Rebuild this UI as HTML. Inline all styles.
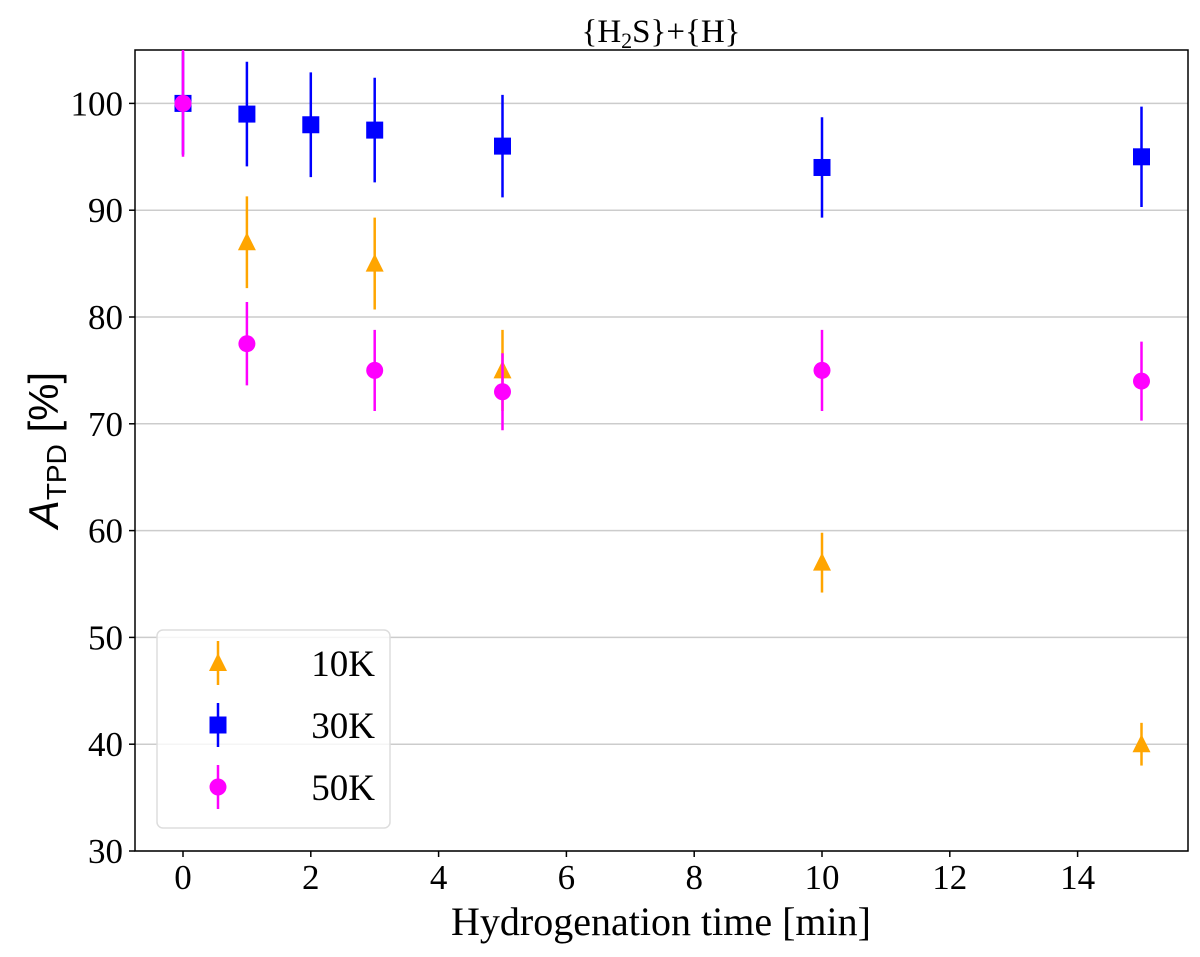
<!DOCTYPE html>
<html><head><meta charset="utf-8"><style>
body{margin:0;background:#fff}
svg{display:block;font-family:"Liberation Serif",serif}
</style></head><body>
<svg id="chart" width="1200" height="957" viewBox="0 0 1200 957" xmlns="http://www.w3.org/2000/svg">
<g id="grid"></g>
<g id="axes"></g>
<g id="marks"></g>
<text x="661" y="42" font-size="33" text-anchor="middle">{H<tspan font-size="22" dy="6">2</tspan><tspan dy="-6">S}+{H}</tspan></text>
<text x="661" y="935" font-size="40" text-anchor="middle">Hydrogenation time [min]</text>
<text transform="translate(58,450) rotate(-90)" font-size="42" text-anchor="middle" font-family="Liberation Sans,sans-serif"><tspan font-style="italic">A</tspan><tspan font-size="28" dy="8">TPD</tspan><tspan dy="-8"> [%]</tspan></text>
<g id="legend">
<rect x="157" y="630" width="233" height="198" rx="6" fill="#fff" fill-opacity="0.8" stroke="#ddd" stroke-width="1.5"/>
</g>
</svg>
<script>
const xTicks=[0,2,4,6,8,10,12,14];
const yTicks=[30,40,50,60,70,80,90,100];
const t10=[1,3,5,10,15];
const v10=[87,85,75,57,40];
const e10=[4.3,4.3,3.8,2.8,2];
const t30=[0,1,2,3,5,10,15];
const v30=[100,99,98,97.5,96,94,95];
const e30=[4.8,4.9,4.9,4.9,4.8,4.7,4.7];
const t50=[0,1,3,5,10,15];
const v50=[100,77.5,75,73,75,74];
const e50=[5,3.9,3.8,3.6,3.8,3.7];
const L=135,R=1188,T=50,B=851;
const x=v=>183+v*63.9;
const y=v=>B-(v-30)*(B-T)/75;
const NS="http://www.w3.org/2000/svg";
function mk(p,tag,a){const e=document.createElementNS(NS,tag);for(const k in a)e.setAttribute(k,a[k]);p.appendChild(e);return e;}
const grid=document.getElementById('grid'),axes=document.getElementById('axes'),marks=document.getElementById('marks');
yTicks.forEach(v=>{
 const g=mk(grid,'line',{x1:L,x2:R,y1:y(v),y2:y(v),stroke:'#ccc','stroke-width':1.5});
 
 
 mk(axes,'line',{x1:L-6,x2:L,y1:y(v),y2:y(v),stroke:'#000','stroke-width':1.5});
 const t=mk(axes,'text',{x:L-12,y:y(v)+12,'font-size':35,'text-anchor':'end'});t.textContent=v;
 
 
});
xTicks.forEach(v=>{
 mk(axes,'line',{x1:x(v),x2:x(v),y1:B,y2:B+6,stroke:'#000','stroke-width':1.5});
 const t=mk(axes,'text',{x:x(v),y:B+38,'font-size':35,'text-anchor':'middle'});t.textContent=v;
 
 
});
const fr=mk(axes,'rect',{x:L,y:T,width:R-L,height:B-T,fill:'none',stroke:'#000','stroke-width':1.5});


const clip=mk(marks,'clipPath',{id:'cp'});mk(clip,'rect',{x:L,y:T,width:R-L,height:B-T});
marks.setAttribute('clip-path','url(#cp)');
function marker(p,kind,cx,cy,col){
 if(kind==='tri')return mk(p,'polygon',{points:`${cx-9},${cy+8} ${cx+9},${cy+8} ${cx},${cy-10}`,fill:col});
 if(kind==='sq')return mk(p,'rect',{x:cx-8.5,y:cy-8.5,width:17,height:17,fill:col});
 return mk(p,'circle',{cx:cx,cy:cy,r:8.5,fill:col});
}
function series(ts,vs,es,kind,col,name){
 ts.forEach((t,i)=>{
  const g=mk(marks,'g',{});
  
  
  mk(g,'line',{x1:x(t),x2:x(t),y1:y(vs[i]-es[i]),y2:y(vs[i]+es[i]),stroke:col,'stroke-width':2.5});
  marker(g,kind,x(t),y(vs[i]),col);
 });
}
series(t10,v10,e10,'tri','#ffa500','10k');
series(t30,v30,e30,'sq','#0000ff','30k');
series(t50,v50,e50,'circ','#ff00ff','50k');
const lg=document.getElementById('legend');
[['tri','#ffa500','10K'],['sq','#0000ff','30K'],['circ','#ff00ff','50K']].forEach((d,i)=>{
 const cy=663+i*62;
 const g=mk(lg,'g',{});
 
 
 mk(g,'line',{x1:218,x2:218,y1:cy-22,y2:cy+22,stroke:d[1],'stroke-width':2.5});
 marker(g,d[0],218,cy,d[1]);
 const t=mk(g,'text',{x:375,y:cy+13,'font-size':37,'text-anchor':'end'});t.textContent=d[2];
});
</script>
</body></html>
